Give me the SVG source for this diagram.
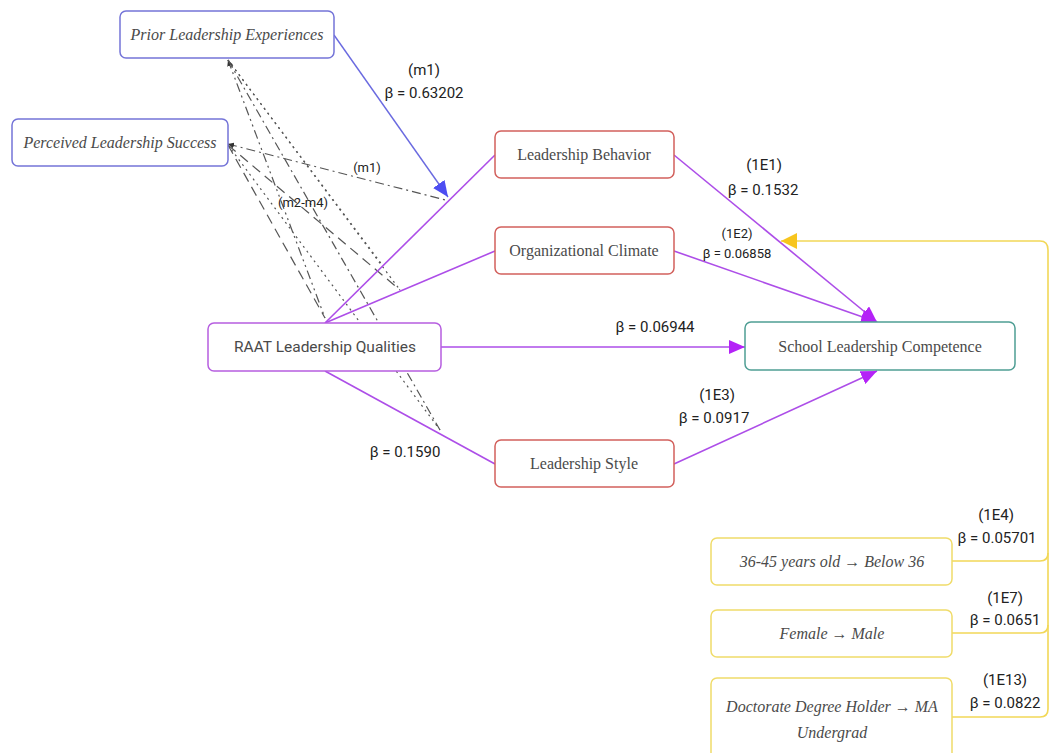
<svg xmlns="http://www.w3.org/2000/svg" width="1053" height="753" viewBox="0 0 1053 753">
<style>
.bg{fill:#ffffff}
.box{fill:#ffffff;stroke-width:1.5}
.blue{stroke:#7474d8}
.red{stroke:#d2605c}
.pur{stroke:#b65ee0}
.teal{stroke:#4f9e94}
.yel{stroke:#f0dc6a}
.ser{font-family:"Liberation Serif","DejaVu Serif",serif;font-size:16px;fill:#4a4a4a;text-anchor:middle}
.it{font-style:italic}
.sans{font-family:Roboto,"Liberation Sans",sans-serif;fill:#4a4a4a;text-anchor:middle}
.lbl{font-family:Roboto,"Liberation Sans",sans-serif;font-size:15px;fill:#222;text-anchor:middle}
.sm{font-size:13px}
.cp{stroke:#ad4ee8;stroke-width:1.6;fill:none}
.cb{stroke:#6a6ae0;stroke-width:1.4;fill:none}
.cy{stroke:#f2d858;stroke-width:1.6;fill:none}
.cd{stroke:#555;stroke-width:1.2;fill:none}
.d1{stroke-dasharray:9 4 2 4}
.d2{stroke-dasharray:2 4}
.d3{stroke-dasharray:9 4 2 4 2 4}
.d4{stroke-dasharray:10 6}
</style>
<defs>
<marker id="ap" viewBox="0 0 16 14" refX="16" refY="7" markerWidth="16" markerHeight="14" markerUnits="userSpaceOnUse" orient="auto"><path d="M0,0 L16,7 L0,14 Z" fill="#b422f7"/></marker>
<marker id="ab" viewBox="0 0 16 14" refX="16" refY="7" markerWidth="16" markerHeight="14" markerUnits="userSpaceOnUse" orient="auto"><path d="M0,0 L16,7 L0,14 Z" fill="#4d4df2"/></marker>
<marker id="ay" viewBox="0 0 16 16" refX="16" refY="8" markerWidth="16" markerHeight="16" markerUnits="userSpaceOnUse" orient="auto"><path d="M0,0 L16,8 L0,16 Z" fill="#f7c51e"/></marker>
<marker id="ad" viewBox="0 0 6 6" refX="6" refY="3" markerWidth="6" markerHeight="6" markerUnits="userSpaceOnUse" orient="auto-start-reverse"><path d="M0,0 L6,3 L0,6 Z" fill="#333"/></marker>
</defs>
<rect class="bg" x="0" y="0" width="1053" height="753"/>

<g id="connectors">
  <!-- moderator dashed lines -->
  <line class="cd d1" x1="228" y1="144" x2="449" y2="201" marker-start="url(#ad)"/>
  <line class="cd d3" x1="228" y1="60" x2="325" y2="318" marker-start="url(#ad)"/>
  <line class="cd d2" x1="228" y1="60" x2="383" y2="266"/>
  <line class="cd d2" x1="228" y1="60" x2="400" y2="290"/>
  <line class="cd d1" x1="228" y1="60" x2="440" y2="430"/>
  <line class="cd d4" x1="228" y1="145" x2="325" y2="318"/>
  <line class="cd d4" x1="228" y1="145" x2="400" y2="290"/>
  <line class="cd d2" x1="228" y1="145" x2="440" y2="430"/>
  <!-- purple paths -->
  <line class="cp" x1="325" y1="323" x2="495" y2="155"/>
  <line class="cp" x1="325" y1="323" x2="495" y2="251"/>
  <line class="cp" x1="325" y1="371" x2="495" y2="464"/>
  <line class="cp" x1="441" y1="347" x2="745" y2="347" marker-end="url(#ap)"/>
  <line class="cp" x1="674" y1="155" x2="877" y2="322" marker-end="url(#ap)"/>
  <line class="cp" x1="674" y1="251" x2="877" y2="322" marker-end="url(#ap)"/>
  <line class="cp" x1="674" y1="464" x2="877" y2="371" marker-end="url(#ap)"/>
  <!-- blue moderator -->
  <line class="cb" x1="334" y1="35" x2="448" y2="197" marker-end="url(#ab)"/>
  <!-- yellow covariates -->
  <path class="cy" d="M952,561 H1040 Q1048,561 1048,553"/>
  <path class="cy" d="M952,633 H1040 Q1048,633 1048,625"/>
  <path class="cy" d="M952,717 H1040 Q1048,717 1048,709 V250 Q1048,241 1040,241 H781" marker-end="url(#ay)"/>
</g>

<g id="labels">
  <text class="lbl" x="424" y="75">(m1)</text>
  <text class="lbl" x="424" y="98">β = 0.63202</text>
  <text class="lbl sm" x="367" y="172">(m1)</text>
  <text class="lbl sm" x="303" y="207">(m2-m4)</text>
  <text class="lbl" x="764" y="170">(1E1)</text>
  <text class="lbl" x="763" y="195">β = 0.1532</text>
  <text class="lbl sm" x="737" y="238">(1E2)</text>
  <text class="lbl sm" x="737" y="258">β = 0.06858</text>
  <text class="lbl" x="655" y="332">β = 0.06944</text>
  <text class="lbl" x="717" y="400">(1E3)</text>
  <text class="lbl" x="714" y="423">β = 0.0917</text>
  <text class="lbl" x="405" y="457">β = 0.1590</text>
  <text class="lbl" x="996" y="520">(1E4)</text>
  <text class="lbl" x="997" y="543">β = 0.05701</text>
  <text class="lbl" x="1005" y="603">(1E7)</text>
  <text class="lbl" x="1005" y="625">β = 0.0651</text>
  <text class="lbl" x="1005" y="685">(1E13)</text>
  <text class="lbl" x="1005" y="708">β = 0.0822</text>
</g>

<g id="prior">
  <rect class="box blue" x="120" y="11" width="214" height="47" rx="6"/>
  <text class="ser it" x="227" y="40">Prior Leadership Experiences</text>
</g>
<g id="perceived">
  <rect class="box blue" x="12" y="119" width="216" height="47" rx="6"/>
  <text class="ser it" x="120" y="148">Perceived Leadership Success</text>
</g>
<g id="behavior">
  <rect class="box red" x="495" y="131" width="179" height="47" rx="6"/>
  <text class="ser" x="584" y="160">Leadership Behavior</text>
</g>
<g id="climate">
  <rect class="box red" x="495" y="227" width="179" height="47" rx="6"/>
  <text class="ser" x="584" y="256">Organizational Climate</text>
</g>
<g id="raat">
  <rect class="box pur" x="208" y="323" width="233" height="48" rx="6"/>
  <text class="sans" x="325" y="352" font-size="15.5">RAAT Leadership Qualities</text>
</g>
<g id="style">
  <rect class="box red" x="495" y="440" width="179" height="47" rx="6"/>
  <text class="ser" x="584" y="469">Leadership Style</text>
</g>
<g id="competence">
  <rect class="box teal" x="745" y="322" width="270" height="48" rx="6"/>
  <text class="ser" x="880" y="352">School Leadership Competence</text>
</g>
<g id="age">
  <rect class="box yel" x="711" y="538" width="241" height="47" rx="6"/>
  <text class="ser it" x="832" y="567">36-45 years old → Below 36</text>
</g>
<g id="gender">
  <rect class="box yel" x="711" y="610" width="241" height="47" rx="6"/>
  <text class="ser it" x="832" y="639">Female → Male</text>
</g>
<g id="degree">
  <rect class="box yel" x="711" y="678" width="241" height="90" rx="6"/>
  <text class="ser it" x="832" y="712">Doctorate Degree Holder → MA</text>
  <text class="ser it" x="832" y="738">Undergrad</text>
</g>
</svg>
